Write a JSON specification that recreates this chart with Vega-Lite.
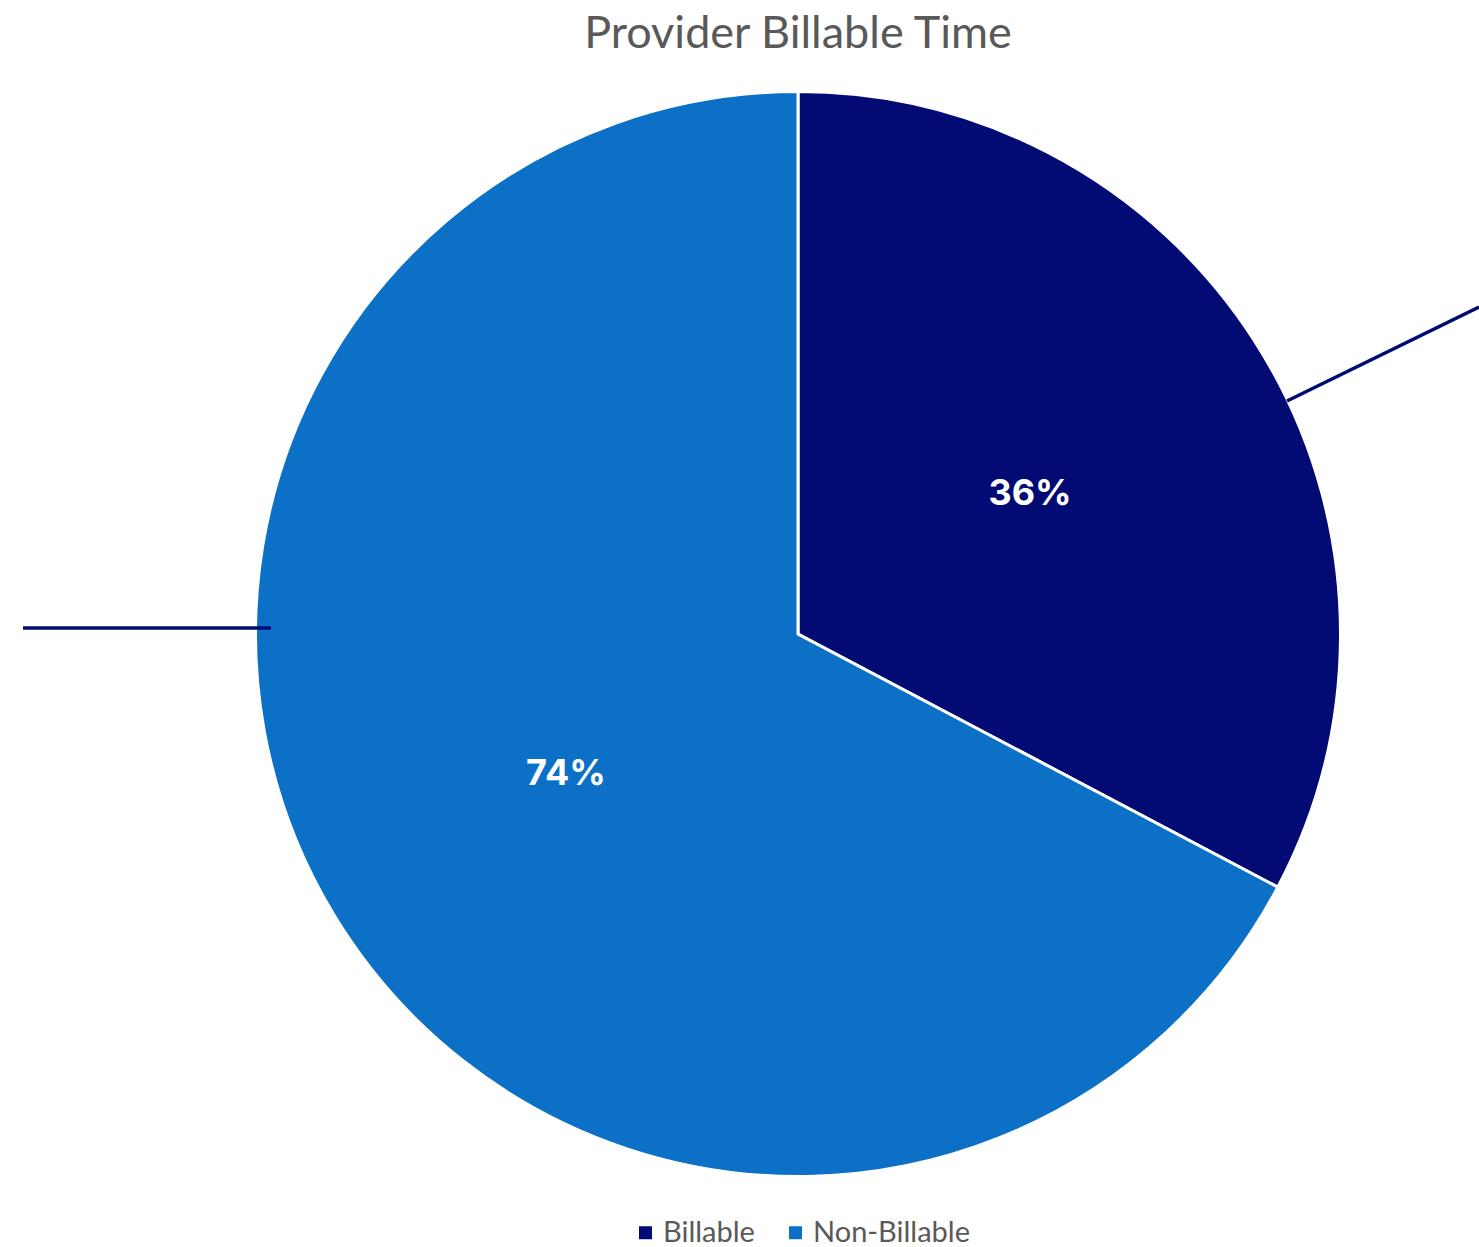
{
  "$schema": "https://vega.github.io/schema/vega-lite/v6.json",
  "width": 1362,
  "height": 1082,
  "autosize": {"type": "none"},
  "padding": {"left": 117, "top": 93, "right": 0, "bottom": 72},
  "background": "white",
  "title": {
    "text": "Provider Billable Time",
    "font": "Lato",
    "fontSize": 45,
    "fontWeight": "normal",
    "color": "#595959",
    "anchor": "middle",
    "frame": "group",
    "baseline": "alphabetic",
    "offset": -7
  },
  "datasets": {
    "share": [
      {"category": "Billable", "value": 0.36},
      {"category": "Non-Billable", "value": 0.74}
    ],
    "leaders": [
      {"leader": "Billable", "x": 0.9039, "y": 0.4307},
      {"leader": "Billable", "x": 1.2588, "y": 0.6044},
      {"leader": "Non-Billable", "x": -1.4325, "y": 0.0111},
      {"leader": "Non-Billable", "x": -0.9741, "y": 0.0111}
    ]
  },
  "layer": [
    {
      "data": {"name": "share"},
      "mark": {"type": "arc", "outerRadius": 542.5, "stroke": "white", "strokeWidth": 3},
      "encoding": {
        "theta": {"field": "value", "type": "quantitative", "stack": true},
        "color": {
          "field": "category",
          "type": "nominal",
          "scale": {"domain": ["Billable", "Non-Billable"], "range": ["#020B73", "#0D70C7"]},
          "legend": {
            "title": null,
            "orient": "none",
            "direction": "horizontal",
            "legendX": 514,
            "legendY": 1125,
            "symbolType": "square",
            "symbolSize": 169,
            "symbolStrokeWidth": 0,
            "labelFont": "Lato",
            "labelFontSize": 29,
            "labelColor": "#595959",
            "labelOffset": 3,
            "columnPadding": 26
          }
        }
      }
    },
    {
      "data": {"name": "share"},
      "mark": {"type": "text", "radius": 271, "font": "Inter", "fontWeight": "bold", "fontSize": 36, "fill": "white", "align": "center", "baseline": "middle"},
      "encoding": {
        "theta": {"field": "value", "type": "quantitative", "stack": true},
        "detail": {"field": "category", "type": "nominal"},
        "text": {"field": "value", "type": "quantitative", "format": ".0%"}
      }
    },
    {
      "data": {"name": "leaders"},
      "mark": {"type": "line", "stroke": "#020B73", "strokeWidth": 3.5, "clip": false},
      "encoding": {
        "x": {"field": "x", "type": "quantitative", "scale": {"domain": [-1.2588, 1.2588], "nice": false, "zero": false}, "axis": null},
        "y": {"field": "y", "type": "quantitative", "scale": {"domain": [-1, 1], "nice": false, "zero": false}, "axis": null},
        "detail": {"field": "leader", "type": "nominal"}
      }
    }
  ],
  "config": {"view": {"stroke": null}}
}
